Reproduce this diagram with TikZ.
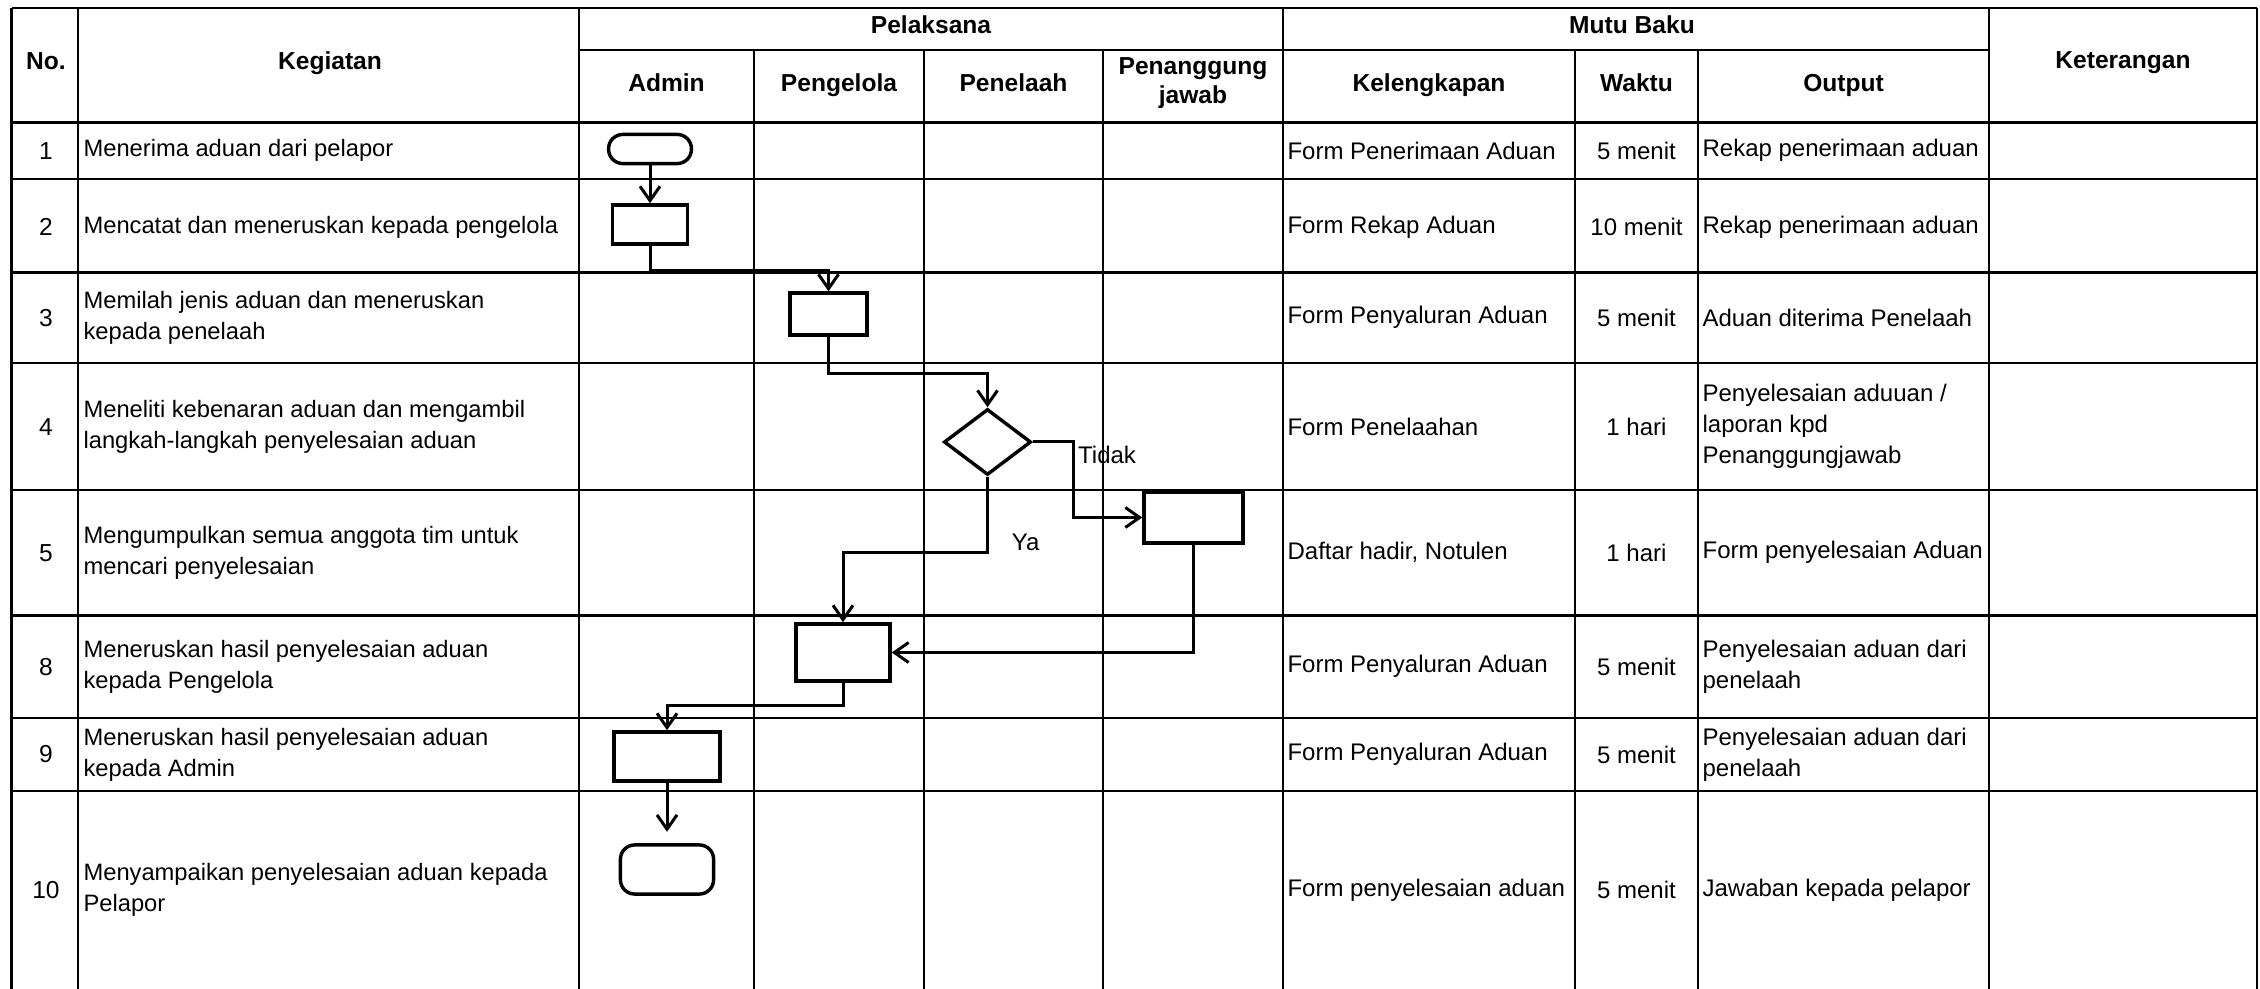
\documentclass[tikz,border=0pt]{standalone}
\usepackage{fontspec}
\setmainfont{Liberation Sans}
\usetikzlibrary{positioning, arrows.meta, shapes.geometric}

\begin{document}
\begin{tikzpicture}[x=0.35pt, y=-0.35pt, >={Straight Barb[length=5pt, width=7pt]},
      grid/.style={line width=0.8pt},
      head/.style={font=\bfseries\fontsize{8.6pt}{10.4pt}\selectfont, align=center, inner sep=0pt},
      head1/.style={head, text height=6.3pt, text depth=1.8pt},
      num/.style={font=\fontsize{8.6pt}{10.9pt}\selectfont, inner sep=0pt},
      keg/.style={font=\fontsize{8.3pt}{10.9pt}\selectfont, align=left, anchor=west, inner sep=0pt},
      cell/.style={font=\fontsize{8.4pt}{10.9pt}\selectfont, align=left, anchor=west, inner sep=0pt},
      wkt/.style={font=\fontsize{8.4pt}{10.9pt}\selectfont, inner sep=0pt},
      proc/.style={draw, line width=1.2pt, inner sep=0pt},
      term/.style={proc, rounded corners=5pt},
      dec/.style={proc, diamond},
      flow/.style={->, line width=1.05pt}]
  \useasboundingbox (0,0) rectangle (2260,989);
  \draw[grid] (11.5,8) -- (2257,8)
              (579,50) -- (1989,50)
              (11.5,122.5) -- (2257,122.5)
              (11.5,178.7) -- (2257,178.7)
              (11.5,272.4) -- (2257,272.4)
              (11.5,363.2) -- (2257,363.2)
              (11.5,490) -- (2257,490)
              (11.5,615.4) -- (2257,615.4)
              (11.5,717.8) -- (2257,717.8)
              (11.5,791.3) -- (2257,791.3);
  \draw[grid] (11.5,8) -- (11.5,989)
              (78,8) -- (78,989)
              (579,8) -- (579,989)
              (754,50) -- (754,989)
              (924,50) -- (924,989)
              (1103,50) -- (1103,989)
              (1283,8) -- (1283,989)
              (1575,50) -- (1575,989)
              (1698,50) -- (1698,989)
              (1989,8) -- (1989,989)
              (2257,8) -- (2257,989);

  \node[head1] (hno) at (46,63) {No.};
  \node[head1] (hkeg) at (330,63) {Kegiatan};
  \node[head1] (hpel) at (931,27) {Pelaksana};
  \node[head1] (hadm) at (666.5,85) {Admin};
  \node[head1] (hpgl) at (839,85) {Pengelola};
  \node[head1] (hpnl) at (1013.5,85) {Penelaah};
  \node[head] (hpj) at (1193,83) {Penanggung\\jawab};
  \node[head1] (hmb) at (1632,27) {Mutu Baku};
  \node[head1] (hkel) at (1429,85) {Kelengkapan};
  \node[head1] (hwkt) at (1636.5,85) {Waktu};
  \node[head1] (hout) at (1843.5,85) {Output};
  \node[head1] (hket) at (2123,62) {Keterangan};

  \node[num] (n1) at (46,150.6) {1};
  \node[keg] (k1) at (83,150.6) {Menerima aduan dari pelapor};
  \node[cell] (l1) at (1287,150.6) {Form Penerimaan Aduan};
  \node[wkt] (w1) at (1636.5,150.6) {5 menit};
  \node[cell] (o1) at (1702,150.6) {Rekap penerimaan aduan};

  \node[num] (n2) at (46,227) {2};
  \node[keg] (k2) at (83,227) {Mencatat dan meneruskan kepada pengelola};
  \node[cell] (l2) at (1287,227) {Form Rekap Aduan};
  \node[wkt] (w2) at (1636.5,227) {10 menit};
  \node[cell] (o2) at (1702,227) {Rekap penerimaan aduan};

  \node[num] (n3) at (46,317.8) {3};
  \node[keg] (k3) at (83,317.8) {Memilah jenis aduan dan meneruskan\\kepada penelaah};
  \node[cell] (l3) at (1287,317.8) {Form Penyaluran Aduan};
  \node[wkt] (w3) at (1636.5,317.8) {5 menit};
  \node[cell] (o3) at (1702,317.8) {Aduan diterima Penelaah};

  \node[num] (n4) at (46,426.6) {4};
  \node[keg] (k4) at (83,426.6) {Meneliti kebenaran aduan dan mengambil\\langkah-langkah penyelesaian aduan};
  \node[cell] (l4) at (1287,426.6) {Form Penelaahan};
  \node[wkt] (w4) at (1636.5,426.6) {1 hari};
  \node[cell] (o4) at (1702,426.6) {Penyelesaian aduuan /\\laporan kpd\\Penanggungjawab};

  \node[num] (n5) at (46,552.7) {5};
  \node[keg] (k5) at (83,552.7) {Mengumpulkan semua anggota tim untuk\\mencari penyelesaian};
  \node[cell] (l5) at (1287,552.7) {Daftar hadir, Notulen};
  \node[wkt] (w5) at (1636.5,552.7) {1 hari};
  \node[cell] (o5) at (1702,552.7) {Form penyelesaian Aduan};

  \node[num] (n8) at (46,666.6) {8};
  \node[keg] (k8) at (83,666.6) {Meneruskan hasil penyelesaian aduan\\kepada Pengelola};
  \node[cell] (l8) at (1287,666.6) {Form Penyaluran Aduan};
  \node[wkt] (w8) at (1636.5,666.6) {5 menit};
  \node[cell] (o8) at (1702,666.6) {Penyelesaian aduan dari\\penelaah};

  \node[num] (n9) at (46,754.5) {9};
  \node[keg] (k9) at (83,754.5) {Meneruskan hasil penyelesaian aduan\\kepada Admin};
  \node[cell] (l9) at (1287,754.5) {Form Penyaluran Aduan};
  \node[wkt] (w9) at (1636.5,754.5) {5 menit};
  \node[cell] (o9) at (1702,754.5) {Penyelesaian aduan dari\\penelaah};

  \node[num] (n10) at (46,890) {10};
  \node[keg] (k10) at (83,890) {Menyampaikan penyelesaian aduan kepada\\Pelapor};
  \node[cell] (l10) at (1287,890) {Form penyelesaian aduan};
  \node[wkt] (w10) at (1636.5,890) {5 menit};
  \node[cell] (o10) at (1702,890) {Jawaban kepada pelapor};

  \node[term, minimum width=29pt, minimum height=10.2pt] (t1) at (650,149) {};
  \node[proc, minimum width=26.3pt, minimum height=13.7pt] (b2) at (650,224.5) {};
  \node[proc, minimum width=27pt, minimum height=14.7pt] (b3) at (828.5,314) {};
  \node[dec, minimum width=30.5pt, minimum height=23.1pt] (d4) at (987.5,442) {};
  \node[proc, minimum width=34.7pt, minimum height=17.9pt] (b5) at (1193.5,517.5) {};
  \node[proc, minimum width=32.9pt, minimum height=20pt] (b8) at (843,652.5) {};
  \node[proc, minimum width=37.1pt, minimum height=17.2pt] (b9) at (667,756.5) {};
  \node[term, minimum width=32.6pt, minimum height=17.2pt] (t10) at (667,869.5) {};

  \draw[flow] (t1) -- (b2);
  \draw[flow] (b2.south) -- ++(0,25) -| (b3.north);
  \draw[flow] (b3.south) -- ++(0,37) -| (d4.north);
  \draw[flow] (d4.east) -- ++(41,0) node[cell, anchor=north west, xshift=1pt, yshift=-1pt] {Tidak} |- (b5.west);
  \draw[flow] (d4.south) -- node[cell, pos=0.87, xshift=8pt] {Ya} ++(0,76) -| (b8.north);
  \draw[flow] (b5.south) |- (b8.east);
  \draw[flow] (b8.south) -- ++(0,23) -| (b9.north);
  \draw[flow, shorten >=4pt] (b9) -- (t10);
\end{tikzpicture}
\end{document}
